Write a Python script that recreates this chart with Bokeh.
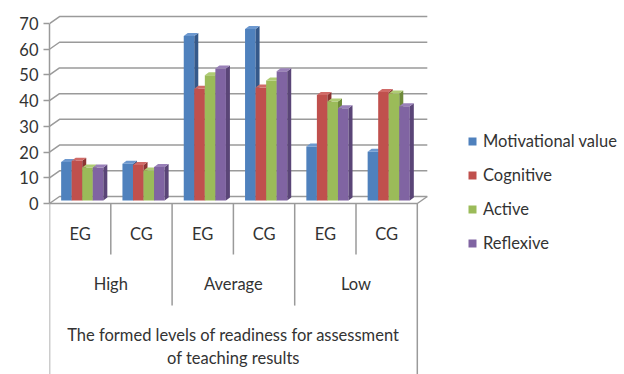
from bokeh.plotting import figure
from bokeh.models import Range1d, FixedTicker, Legend, LegendItem, ColumnDataSource
from bokeh.embed import file_html
from bokeh.resources import INLINE
from bokeh.core.properties import value

# ---- data ----
subgroups = ["EG", "CG", "EG", "CG", "EG", "CG"]
groups = ["High", "Average", "Low"]
series_names = ["Motivational value", "Cognitive", "Active", "Reflexive"]
motivational = [15.0, 14.3, 64.0, 66.7, 21.0, 19.0]
cognitive = [15.5, 13.8, 43.5, 44.0, 41.0, 42.2]
active = [12.8, 11.7, 48.7, 46.7, 38.5, 41.6]
reflexive = [12.8, 13.0, 51.3, 50.3, 35.9, 36.7]
y_ticks = [0, 10, 20, 30, 40, 50, 60, 70]
title_lines = ["The formed levels of readiness for assessment", "of teaching results"]

series = [motivational, cognitive, active, reflexive]
front_colors = ["#4F81BD", "#C0504D", "#9BBB59", "#8064A2"]
side_colors = ["#35598A", "#8C3533", "#6E8A3A", "#5A4577"]
top_colors = ["#6C98CF", "#D06A67", "#AFCC74", "#9980B8"]

# ---- geometry (pixel scale helpers) ----
CW = 61.3        # px per category
YS = 2.571       # px per unit
W, H = 624, 374
LEFT = 49
FRAME_W = W - LEFT
x_end = FRAME_W / CW
y_top = 203 / YS
y_bot = (203 - H) / YS

gdx = 10 / CW     # back wall offset
gdy = 7 / YS
bdy = 3 / YS      # bar base lift
sdx = 4 / CW      # bar side depth
sdy = 3 / YS
bw = 0.172
b0 = 0.19
ncat = len(subgroups)

GRID = "#9a9a9a"
TXT = "#333333"
FONT = "Lato"
FS = "16.5px"

p = figure(width=W, height=H, output_backend="svg", toolbar_location=None,
           x_range=Range1d(0, x_end), y_range=Range1d(y_bot, y_top),
           x_axis_location=None, min_border_left=LEFT, min_border_right=0,
           min_border_top=0, min_border_bottom=0)
p.outline_line_color = None
p.xgrid.visible = False
p.ygrid.visible = False
p.background_fill_color = None
p.border_fill_color = "white"

ax = p.yaxis[0]
ax.ticker = FixedTicker(ticks=y_ticks)
ax.bounds = (0, 70)
ax.axis_line_color = GRID
ax.axis_line_width = 1.5
ax.major_tick_line_color = GRID
ax.major_tick_line_width = 1.5
ax.major_tick_out = 6
ax.major_tick_in = 0
ax.minor_tick_line_color = None
ax.major_label_standoff = 5
ax.major_label_text_font = FONT
ax.major_label_text_font_size = FS
ax.major_label_text_color = TXT

# back wall gridlines + diagonals
gxs, gys = [], []
for t in y_ticks:
    gxs.append([0, gdx, ncat + gdx])
    gys.append([t, t + gdy, t + gdy])
p.multi_line(gxs, gys, line_color=GRID, line_width=1.5)
# floor
p.line([0, ncat, ncat + gdx], [0, 0, gdy], line_color=GRID, line_width=1.5)

# category table lines
seg_x = [0, 1, 2, 3, 4, 5, 6]
seg_y1 = [y_bot, -19.8, -39.7, -19.8, -39.7, -19.8, y_bot]
p.segment(x0=seg_x, y0=[0] * 7, x1=seg_x, y1=seg_y1, line_color=GRID, line_width=1.5)

# bars
items = []
nan = float("nan")
for j, vals in enumerate(series):
    lefts = [i + b0 + j * bw for i in range(ncat)]
    rights = [l + bw for l in lefts]
    tops = [v + bdy for v in vals]
    src = ColumnDataSource(dict(x=[l + bw / 2 for l in lefts], top=tops, bottom=[bdy] * ncat))
    p.vbar(x="x", width=bw, top="top", bottom="bottom", source=src,
           fill_color=front_colors[j], line_color=None)
    side_xs = [[rr, rr + sdx, rr + sdx, rr] for rr in rights]
    side_ys = [[bdy, bdy + sdy, t + sdy, t] for t in tops]
    p.patches(side_xs, side_ys, fill_color=side_colors[j], line_color=None)
    top_xs = [[l, rr, rr + sdx, l + sdx] for l, rr in zip(lefts, rights)]
    top_ys = [[t, t, t + sdy, t + sdy] for t in tops]
    p.patches(top_xs, top_ys, fill_color=top_colors[j], line_color=None)
    # legend key (square marker, not drawn in the plot)
    key = p.scatter(x=[nan], y=[nan], marker="square", size=8,
                    fill_color=front_colors[j], line_color=None)
    items.append(LegendItem(label=series_names[j], renderers=[key]))

# category labels
p.text(x=[i + 0.5 for i in range(ncat)], y=[-11.7] * ncat, text=subgroups,
       text_align="center", text_baseline="middle", text_font=value(FONT),
       text_font_size=FS, text_color=TXT)
p.text(x=[1, 3, 5], y=[-31.5] * 3, text=groups,
       text_align="center", text_baseline="middle", text_font=value(FONT),
       text_font_size=FS, text_color=TXT)
p.text(x=[3, 3], y=[-51.3, -59.9], text=title_lines,
       text_align="center", text_baseline="middle", text_font=value(FONT),
       text_font_size=FS, text_color=TXT)

legend = Legend(items=items, location=(413, 121), orientation="vertical",
                glyph_width=20, glyph_height=20, label_height=20, spacing=14,
                label_standoff=1, padding=0, margin=0,
                border_line_color=None, background_fill_alpha=0,
                label_text_font=FONT, label_text_font_size=FS,
                label_text_color=TXT)
p.add_layout(legend, "center")

open("out.html", "w").write(file_html(p, INLINE))
